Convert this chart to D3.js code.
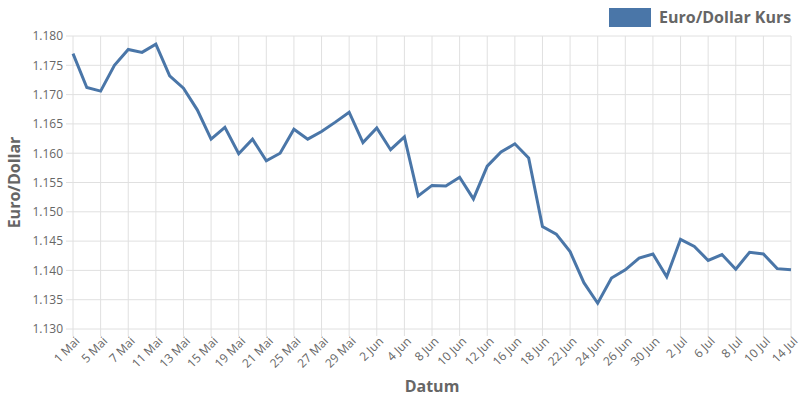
<!DOCTYPE html>
<html>
<head>
<meta charset="utf-8">
<script src="https://cdn.jsdelivr.net/npm/d3@7"></script>
<style>
  body { margin: 0; background: #fff; }
  text { font-family: "Open Sans", sans-serif; }
</style>
</head>
<body>
<div id="chart"></div>
<script>
// Handelstage 1 Mai - 14 Jul
let dates = ["1 Mai", "4 Mai", "5 Mai", "6 Mai", "7 Mai", "8 Mai", "11 Mai", "12 Mai", "13 Mai", "14 Mai",
    "15 Mai", "18 Mai", "19 Mai", "20 Mai", "21 Mai", "22 Mai", "25 Mai", "26 Mai", "27 Mai", "28 Mai",
    "29 Mai", "1 Jun", "2 Jun", "3 Jun", "4 Jun", "5 Jun", "8 Jun", "9 Jun", "10 Jun", "11 Jun",
    "12 Jun", "15 Jun", "16 Jun", "17 Jun", "18 Jun", "19 Jun", "22 Jun", "23 Jun", "24 Jun", "25 Jun",
    "26 Jun", "29 Jun", "30 Jun", "1 Jul", "2 Jul", "3 Jul", "6 Jul", "7 Jul", "8 Jul", "9 Jul",
    "10 Jul", "13 Jul", "14 Jul"];

let kurs = [1.1770, 1.1712, 1.1706, 1.1750, 1.1777, 1.1772, 1.1786, 1.1732, 1.1711, 1.1674,
    1.1624, 1.1644, 1.1599, 1.1624, 1.1587, 1.1600, 1.1641, 1.1624, 1.1637, 1.1653,
    1.1670, 1.1618, 1.1643, 1.1606, 1.1628, 1.1527, 1.1545, 1.1544, 1.1559, 1.1522,
    1.1578, 1.1602, 1.1616, 1.1592, 1.1475, 1.1462, 1.1432, 1.1379, 1.1344, 1.1387,
    1.1401, 1.1421, 1.1428, 1.1389, 1.1453, 1.1441, 1.1417, 1.1427, 1.1402, 1.1431,
    1.1428, 1.1403, 1.1401];

let yTicks = [1.130, 1.135, 1.140, 1.145, 1.150, 1.155, 1.160, 1.165, 1.170, 1.175, 1.180];
let tickDates = dates.filter(function(d, i) { return i % 2 === 0; });

let seriesName = "Euro/Dollar Kurs";
let lineColor = "#4a76a8";

let width = 800, height = 400;
let margin = { top: 36, right: 9, bottom: 71, left: 73 };

let svg = d3.select("#chart").append("svg")
    .attr("width", width)
    .attr("height", height);

let x = d3.scalePoint()
    .domain(dates)
    .range([margin.left, width - margin.right]);

let y = d3.scaleLinear()
    .domain([1.130, 1.180])
    .range([height - margin.bottom, margin.top]);

// gitter
svg.append("g")
    .selectAll("line")
    .data(yTicks)
    .enter().append("line")
    .attr("x1", margin.left - 7)
    .attr("x2", width - margin.right)
    .attr("y1", function(d) { return y(d); })
    .attr("y2", function(d) { return y(d); })
    .style("stroke", "#e0e0e0")
    .style("stroke-width", 1);

svg.append("g")
    .selectAll("line")
    .data(tickDates)
    .enter().append("line")
    .attr("x1", function(d) { return x(d); })
    .attr("x2", function(d) { return x(d); })
    .attr("y1", margin.top)
    .attr("y2", height - margin.bottom + 7)
    .style("stroke", "#e0e0e0")
    .style("stroke-width", 1);

// achsen
let yAxis = d3.axisLeft(y).tickValues(yTicks).tickFormat(d3.format(".3f")).tickSize(0).tickPadding(10);
let gy = svg.append("g")
    .attr("transform", "translate(" + margin.left + ",0)")
    .call(yAxis);
gy.select(".domain").remove();
gy.selectAll("text")
    .style("font-size", "12px")
    .style("fill", "#666");

let xAxis = d3.axisBottom(x).tickValues(tickDates).tickSize(0).tickPadding(0);
let gx = svg.append("g")
    .attr("transform", "translate(0," + (height - margin.bottom) + ")")
    .call(xAxis);
gx.select(".domain").remove();
gx.selectAll("text")
    .style("font-size", "12px")
    .style("fill", "#666")
    .style("text-anchor", "end")
    .attr("dy", "0.35em")
    .attr("y", 0)
    .attr("transform", "translate(4,10) rotate(-45)");

// linie
let line = d3.line()
    .x(function(d, i) { return x(dates[i]); })
    .y(function(d) { return y(d); });

svg.append("path")
    .datum(kurs)
    .attr("d", line)
    .style("fill", "none")
    .style("stroke", lineColor)
    .style("stroke-width", 3)
    .style("stroke-linejoin", "miter");

// titel
svg.append("text")
    .attr("x", (margin.left + width - margin.right) / 2)
    .attr("y", 392)
    .style("text-anchor", "middle")
    .style("font-size", "16px")
    .style("font-weight", "bold")
    .style("fill", "#666")
    .text("Datum");

svg.append("text")
    .attr("transform", "translate(20," + ((margin.top + height - margin.bottom) / 2) + ") rotate(-90)")
    .style("text-anchor", "middle")
    .style("font-size", "16px")
    .style("font-weight", "bold")
    .style("fill", "#666")
    .text("Euro/Dollar");

// legende
let legend = svg.append("g");
legend.append("rect")
    .attr("x", 609)
    .attr("y", 8)
    .attr("width", 42)
    .attr("height", 19)
    .style("fill", lineColor);
legend.append("text")
    .attr("x", 659)
    .attr("y", 23)
    .style("font-size", "16px")
    .style("font-weight", "bold")
    .style("fill", "#666")
    .text(seriesName);
</script>
</body>
</html>
